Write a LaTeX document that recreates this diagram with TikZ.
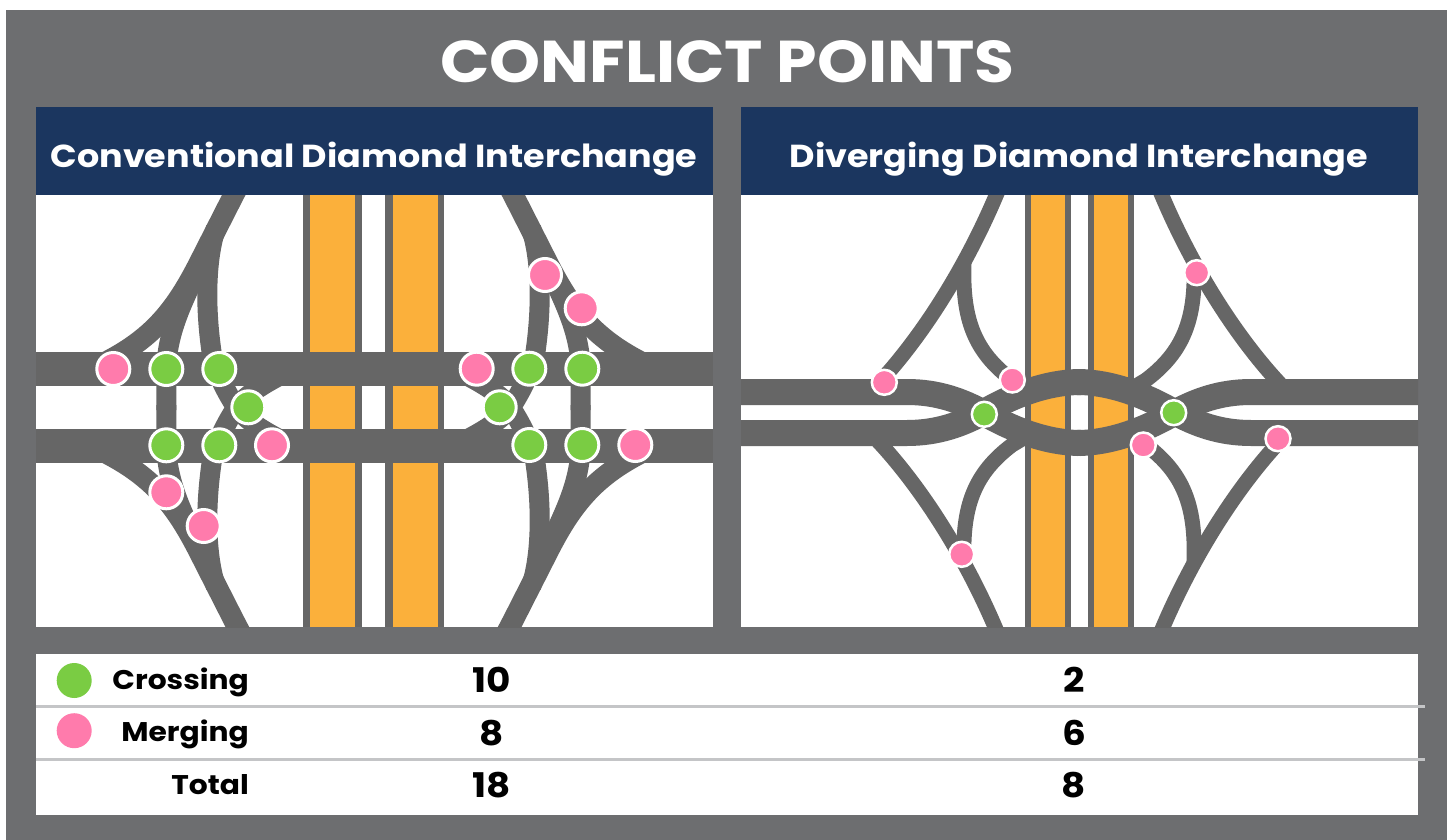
\documentclass[tikz,border=0pt]{standalone}
\usepackage{fontspec}
\setmainfont[FakeStretch=1.1]{Poppins}
\definecolor{bggrey}{HTML}{6D6E70}
\definecolor{navy}{HTML}{1B365F}
\definecolor{roadgrey}{HTML}{666666}
\definecolor{fwyorange}{HTML}{FBB03B}
\definecolor{crossgreen}{HTML}{7ACC43}
\definecolor{mergepink}{HTML}{FF7BAC}
\definecolor{rulegrey}{HTML}{C4C5C7}
\tikzset{
    road/.style={draw=roadgrey,line width=#1pt},
    bigdot/.style={circle,draw=white,line width=3pt,minimum size=33pt,inner sep=0pt},
    smalldot/.style={circle,draw=white,line width=2.5pt,minimum size=25pt,inner sep=0pt},
    keydot/.style={circle,minimum size=35pt,inner sep=0pt},
    heading/.style={text=white,font=\fontsize{31.8}{36}\selectfont\bfseries},
    rowlabel/.style={anchor=base east,inner sep=0pt,font=\fontsize{27}{32}\selectfont\bfseries},
    rowvalue/.style={anchor=base,inner sep=0pt,font=\fontsize{34}{40}\selectfont\bfseries}
}
\begin{document}
\begin{tikzpicture}[x=1pt,y=-1pt]
    \useasboundingbox (0,0) rectangle (1450,840);
    \fill[bggrey] (6,10) rectangle (1447,840);
    \node[text=white,font=\fontsize{59}{64}\selectfont\bfseries] (title) at (727.5,62) {CONFLICT POINTS};
    % header bars
    \fill[navy] (36,107) rectangle (713,195);
    \fill[navy] (741,107) rectangle (1418,195);
    \node[heading] (cdihead) at (374,159) {Conventional Diamond Interchange};
    \node[heading] (ddihead) at (1079,159) {Diverging Diamond Interchange};
    % conventional diamond
    \fill[white] (36,195) rectangle (713,627);
    \begin{scope}
        \clip (36,195) rectangle (713,627);
        \fill[roadgrey] (303,195) rectangle (362,627);
        \fill[roadgrey] (385,195) rectangle (444,627);
        \fill[fwyorange] (310,195) rectangle (355,627);
        \fill[fwyorange] (393,195) rectangle (438,627);
        \fill[roadgrey] (36,352) rectangle (713,386);
        \fill[roadgrey] (36,429) rectangle (713,463);
        \foreach \sx/\mx in {1/0,-1/747} \foreach \sy/\my in {1/0,-1/815} {
            \begin{scope}[shift={(\mx,\my)},xscale=\sx,yscale=\sy]
                \draw[road=21] (252,160) -- (233.7,195) -- (199.7,262)
                    .. controls (187,287) and (172,313) .. (148,334)
                    .. controls (133,347) and (118,356) .. (100,365);
                \draw[road=20] (204,255) .. controls (190,290) and (167,325) .. (166.3,370) -- (166.3,410);
                \draw[road=20] (216,228) .. controls (207,255) and (204,300) .. (211.7,353)
                    .. controls (216,372) and (226,392) .. (236,407)
                    .. controls (246,420) and (262,431) .. (295,447);
            \end{scope}
        }
    \end{scope}
    \foreach \x/\y/\n in {166.3/369/a,219.3/369/b,248.3/407.3/c,166.3/445.3/d,219.3/445.3/e,
        529.3/368.7/f,582.3/368.7/g,499.7/407.3/h,529.3/445/i,582.3/445/j}
        \node[bigdot,fill=crossgreen] (cdicross\n) at (\x,\y) {};
    \foreach \x/\y/\n in {113.3/369/a,272/445.3/b,166.3/492.3/c,203.7/526/d,
        476.7/368.7/e,635.3/445/f,545/275/g,581.7/308.3/h}
        \node[bigdot,fill=mergepink] (cdimerge\n) at (\x,\y) {};
    % diverging diamond
    \fill[white] (741,195) rectangle (1418,627);
    \begin{scope}
        \clip (741,195) rectangle (1418,627);
        \fill[roadgrey] (1025,195) rectangle (1070.7,627);
        \fill[roadgrey] (1088,195) rectangle (1133.7,627);
        \fill[fwyorange] (1030.7,195) rectangle (1065,627);
        \fill[fwyorange] (1093.7,195) rectangle (1128.3,627);
        \foreach \sx/\mx in {1/0,-1/2158} \foreach \sy/\my in {1/0,-1/825} {
            \begin{scope}[shift={(\mx,\my)},xscale=\sx,yscale=\sy]
                \draw[road=26] (730,392) -- (907,392)
                    .. controls (938,392) and (962,401) .. (984,413)
                    .. controls (1010,428) and (1045,443) .. (1081,443);
                \draw[road=15] (1005,175) -- (996.3,195)
                    .. controls (968,262) and (928,328) .. (884.3,377) -- (877,385);
                \draw[road=15] (964,263) .. controls (962,320) and (975,352) .. (1012,380) -- (1022,386);
            \end{scope}
        }
    \end{scope}
    \foreach \x/\y/\n in {984.3/414.3/a,1173.7/412.7/b}
        \node[smalldot,fill=crossgreen] (ddicross\n) at (\x,\y) {};
    \foreach \x/\y/\n in {884.3/382.3/a,1012.3/380/b,961.7/554.3/c,1196.7/272.7/d,1143.3/445/e,1278/438.7/f}
        \node[smalldot,fill=mergepink] (ddimerge\n) at (\x,\y) {};
    % results table
    \fill[white] (36,654) rectangle (1418,815);
    \draw[rulegrey,line width=3pt] (36,706.7) -- (1425,706.7);
    \draw[rulegrey,line width=3pt] (36,759.3) -- (1425,759.3);
    \node[keydot,fill=crossgreen] (keycross) at (74.2,680.5) {};
    \node[keydot,fill=mergepink] (keymerge) at (74.2,730.7) {};
    \node[rowlabel] (crosslabel) at (249,689) {Crossing};
    \node[rowlabel] (mergelabel) at (249,741.7) {Merging};
    \node[rowlabel] (totallabel) at (249,794) {Total};
    \node[rowvalue] (cdicrossval) at (492,692) {10};
    \node[rowvalue] (cdimergeval) at (492,745) {8};
    \node[rowvalue] (cditotalval) at (492,797.5) {18};
    \node[rowvalue] (ddicrossval) at (1074,692) {2};
    \node[rowvalue] (ddimergeval) at (1074,745) {6};
    \node[rowvalue] (dditotalval) at (1074,797.5) {8};
\end{tikzpicture}
\end{document}
